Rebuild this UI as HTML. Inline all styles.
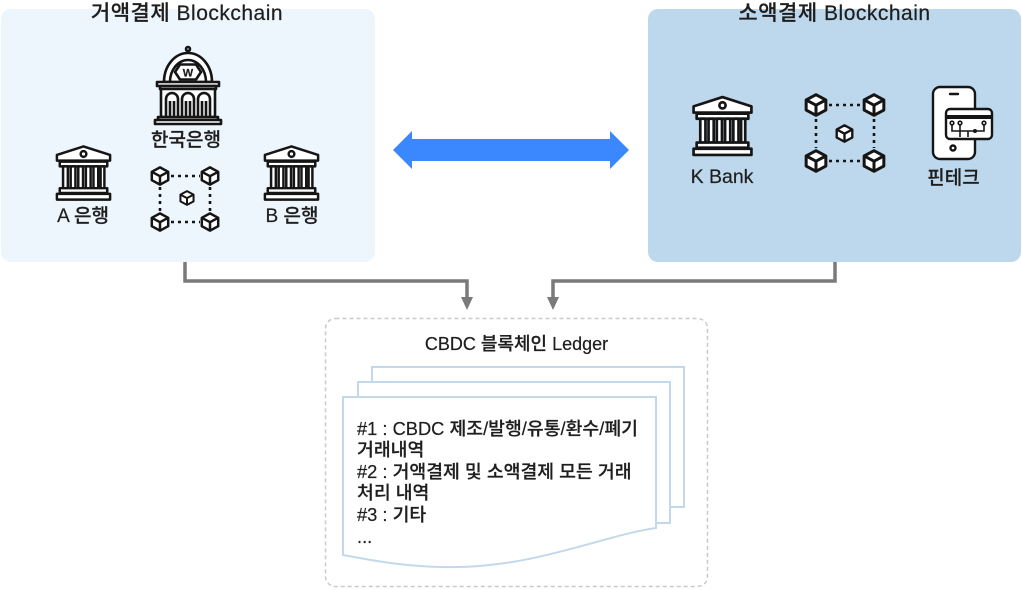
<!DOCTYPE html>
<html>
<head>
<meta charset="utf-8">
<style>
  html,body{margin:0;padding:0;background:#ffffff;}
  body{width:1022px;height:590px;overflow:hidden;position:relative;}
  svg{position:absolute;left:0;top:0;}
  text{font-family:"Liberation Sans","Noto Sans CJK KR",sans-serif;fill:#1e1e1e;font-weight:500;stroke:#1e1e1e;stroke-width:0.2px;}
</style>
</head>
<body>
<svg width="1022" height="590" viewBox="0 0 1022 590" xmlns="http://www.w3.org/2000/svg">
  <defs>
    <symbol id="bank" viewBox="0 0 60 60">
      <g fill="#ffffff" stroke="#151515" stroke-width="2.6" stroke-linejoin="round">
        <polygon points="2,17 2,11 30,2 58,11 58,17"/>
        <circle cx="30" cy="10" r="3"/>
        <rect x="5" y="18" width="50" height="5"/>
        <rect x="8.5" y="23" width="5" height="23"/>
        <rect x="16.5" y="23" width="5" height="23"/>
        <rect x="24.5" y="23" width="5" height="23"/>
        <rect x="32.5" y="23" width="5" height="23"/>
        <rect x="40.5" y="23" width="5" height="23"/>
        <rect x="48" y="23" width="4" height="23"/>
        <rect x="5" y="46" width="50" height="5"/>
        <rect x="2" y="52" width="56" height="6"/>
      </g>
    </symbol>
    <symbol id="cube" viewBox="0 0 20 20">
      <g fill="#ffffff" stroke="#151515" stroke-width="2.5" stroke-linejoin="round">
        <polygon points="10,1.4 18.2,5.8 18.2,14.2 10,18.6 1.8,14.2 1.8,5.8"/>
        <polyline points="1.8,5.8 10,10.2 18.2,5.8" fill="none"/>
        <line x1="10" y1="10.2" x2="10" y2="18.6"/>
      </g>
    </symbol>
  </defs>

  <!-- Left panel -->
  <rect x="1" y="9" width="374" height="253" rx="10" fill="#edf5fd"/>
  <!-- Right panel -->
  <rect x="648" y="9" width="373" height="253" rx="10" fill="#bdd8ec"/>

  <!-- Titles -->
  <text x="187" y="20" font-size="21" text-anchor="middle" letter-spacing="0.5">거액결제 Blockchain</text>
  <text x="834.5" y="20" font-size="21" text-anchor="middle" letter-spacing="0.5">소액결제 Blockchain</text>

  <!-- Bank of Korea icon -->
  <g fill="#ffffff" stroke="#151515" stroke-width="2.6" stroke-linejoin="round">
    <line x1="188" y1="47" x2="188" y2="53"/>
    <circle cx="188" cy="49" r="2"/>
    <path d="M164,82 A24,29 0 0 1 212,82 Z"/>
    <path d="M170,82 A18,22 0 0 1 206,82" fill="none"/>
    <polygon points="175,72 180,64.5 196,64.5 201,72 196,79.5 180,79.5"/>
    <rect x="157" y="82" width="62" height="4"/>
    <rect x="160" y="86" width="56" height="3"/>
    <rect x="161" y="89" width="54" height="28"/>
    <path d="M166,117 V99 A6,6 0 0 1 178,99 V117"/>
    <path d="M182,117 V99 A6,6 0 0 1 194,99 V117"/>
    <path d="M198,117 V99 A6,6 0 0 1 210,99 V117"/>
    <line x1="170" y1="101" x2="170" y2="117"/>
    <line x1="174" y1="101" x2="174" y2="117"/>
    <line x1="186" y1="101" x2="186" y2="117"/>
    <line x1="190" y1="101" x2="190" y2="117"/>
    <line x1="202" y1="101" x2="202" y2="117"/>
    <line x1="206" y1="101" x2="206" y2="117"/>
    <rect x="158" y="117" width="60" height="3"/>
    <rect x="155" y="120" width="66" height="4"/>
  </g>
  <text x="188" y="76.5" font-size="11" text-anchor="middle" style="font-weight:700">W</text>
  <text x="186" y="146" font-size="19" text-anchor="middle">한국은행</text>

  <!-- A / B banks -->
  <use href="#bank" x="55" y="143" width="57" height="60"/>
  <use href="#bank" x="263" y="143" width="57" height="60"/>
  <text x="83" y="222" font-size="19" text-anchor="middle">A 은행</text>
  <text x="292" y="222" font-size="19" text-anchor="middle">B 은행</text>

  <!-- Left network -->
  <g stroke="#151515" stroke-width="2.6" stroke-dasharray="3 4" fill="none">
    <line x1="171" y1="176" x2="200" y2="176"/>
    <line x1="171" y1="222" x2="200" y2="222"/>
    <line x1="160" y1="187" x2="160" y2="212"/>
    <line x1="210" y1="187" x2="210" y2="212"/>
  </g>
  <use href="#cube" x="150" y="166" width="20" height="20"/>
  <use href="#cube" x="200" y="166" width="20" height="20"/>
  <use href="#cube" x="150" y="212" width="20" height="20"/>
  <use href="#cube" x="200" y="212" width="20" height="20"/>
  <use href="#cube" x="179" y="190" width="16" height="16"/>

  <!-- K Bank -->
  <use href="#bank" x="690" y="95" width="65" height="62" preserveAspectRatio="none"/>
  <text x="722" y="183" font-size="19.5" text-anchor="middle">K Bank</text>

  <!-- Right network -->
  <g stroke="#151515" stroke-width="2.6" stroke-dasharray="3 4" fill="none">
    <line x1="829" y1="105" x2="861" y2="105"/>
    <line x1="829" y1="161" x2="861" y2="161"/>
    <line x1="816" y1="119" x2="816" y2="148"/>
    <line x1="874" y1="119" x2="874" y2="148"/>
  </g>
  <use href="#cube" x="804" y="93" width="24" height="24"/>
  <use href="#cube" x="862" y="93" width="24" height="24"/>
  <use href="#cube" x="804" y="149" width="24" height="24"/>
  <use href="#cube" x="862" y="149" width="24" height="24"/>
  <use href="#cube" x="835" y="124" width="19" height="19"/>

  <!-- Phone / fintech -->
  <g fill="#ffffff" stroke="#151515" stroke-width="2.4" stroke-linejoin="round">
    <rect x="933" y="87" width="42" height="72" rx="7"/>
    <line x1="950" y1="94" x2="958" y2="94" stroke-linecap="round"/>
    <circle cx="953" cy="148" r="2.5"/>
    <rect x="946" y="109" width="46" height="30" rx="4"/>
  </g>
  <rect x="946" y="115" width="46" height="4" fill="#151515"/>
  <g fill="none" stroke="#151515" stroke-width="1.6">
    <polyline points="952,124 952,131 984,131 984,124"/>
    <line x1="960" y1="124" x2="960" y2="137"/>
    <line x1="968" y1="131" x2="968" y2="137"/>
  </g>
  <g fill="#ffffff" stroke="#151515" stroke-width="1.6">
    <circle cx="952" cy="123" r="1.8"/>
    <circle cx="960" cy="123" r="1.8"/>
    <circle cx="984" cy="123" r="1.8"/>
  </g>
  <circle cx="975" cy="131" r="2" fill="#151515"/>
  <text x="953.5" y="184" font-size="19" text-anchor="middle">핀테크</text>

  <!-- Blue double arrow -->
  <polygon points="393,150 412,131 412,139 610,139 610,131 629,150 610,169 610,161 412,161 412,169" fill="#3b87fd"/>

  <!-- Connectors -->
  <g fill="none" stroke="#7a7a7a" stroke-width="3.5">
    <polyline points="185,262 185,281 467,281 467,299"/>
    <polyline points="835,262 835,281 553,281 553,299"/>
  </g>
  <polygon points="461,297 473,297 467,310" fill="#7a7a7a"/>
  <polygon points="547,297 559,297 553,310" fill="#7a7a7a"/>

  <!-- Ledger dashed container -->
  <rect x="325.5" y="318.5" width="382" height="268" rx="10" fill="#ffffff" stroke="#c9c9c9" stroke-width="1.5" stroke-dasharray="4 3"/>
  <text x="516.5" y="350" font-size="18" text-anchor="middle">CBDC 블록체인 Ledger</text>

  <!-- Pages -->
  <g fill="#ffffff" stroke="#c3d9eb" stroke-width="2">
    <rect x="372" y="367" width="312" height="140"/>
    <rect x="358" y="382" width="312" height="141"/>
    <path d="M343,397 H656 V528 C600,536 530,570 440,567 C400,566 370,560 343,555 Z"/>
  </g>

  <g font-size="18.3">
    <text x="357" y="435">#1 : CBDC 제조/발행/유통/환수/폐기</text>
    <text x="357" y="456">거래내역</text>
    <text x="357" y="478">#2 : 거액결제 및 소액결제 모든 거래</text>
    <text x="357" y="499">처리 내역</text>
    <text x="357" y="521">#3 : 기타</text>
    <text x="357" y="543">...</text>
  </g>
</svg>
</body>
</html>
